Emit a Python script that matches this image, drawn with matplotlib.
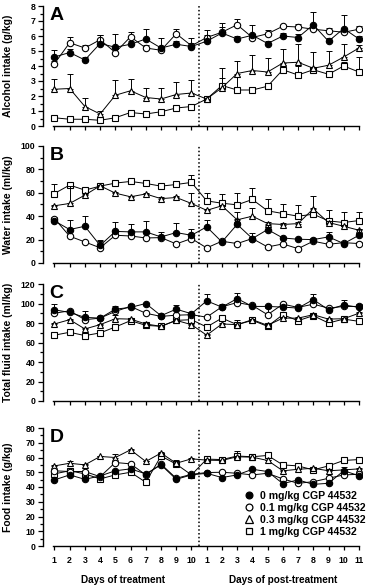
import numpy as np
import matplotlib
matplotlib.use("Agg")
from matplotlib import pyplot as plt
from matplotlib.lines import Line2D
from matplotlib.ticker import MultipleLocator

plt.rcParams["font.family"] = ["Liberation Sans", "DejaVu Sans"]
plt.rcParams["font.weight"] = "bold"

days = np.arange(1, 22)
day_labels = [str(d) for d in range(1, 11)] + [str(d) for d in range(1, 12)]
doses = ["0 mg/kg CGP 44532", "0.1 mg/kg CGP 44532",
         "0.3 mg/kg CGP 44532", "1 mg/kg CGP 44532"]

# panel A - alcohol intake (g/kg)
alc_0 = [4.6, 4.9, 4.4, 5.5, 5.25, 5.45, 5.8, 5.2, 5.45, 5.3, 5.65,
         6.2, 5.8, 6.05, 5.5, 6.0, 5.9, 6.75, 5.65, 6.5, 5.8]
alc_01 = [4.15, 5.55, 5.2, 5.75, 4.9, 5.95, 5.2, 5.05, 6.15, 5.35, 5.9,
          6.25, 6.75, 5.9, 6.15, 6.65, 6.6, 6.45, 6.35, 6.25, 6.45]
alc_03 = [2.45, 2.5, 1.3, 0.8, 2.05, 2.35, 1.9, 1.8, 2.1, 2.2, 1.8,
          2.55, 3.5, 3.7, 3.6, 4.2, 4.25, 3.85, 4.05, 4.6, 5.2]
alc_1 = [0.55, 0.45, 0.45, 0.38, 0.55, 0.9, 0.8, 0.95, 1.2, 1.3, 1.8,
         2.7, 2.4, 2.4, 2.65, 3.75, 3.4, 3.75, 3.45, 4.0, 3.6]
alc_0_err = [0.5, 0.2, 0.2, 0.6, 0.9, 0.2, 0.65, 0.7, 0.2, 0.6, 0.4,
             0.4, 0.2, 0.7, 0.2, 0.2, 0.2, 0.85, 0.2, 0.9, 0.2]
alc_01_err = [0.2, 0.4, 0.2, 0.3, 0.2, 0.35, 0.2, 0.2, 0.3, 0.2, 0.5,
              0.65, 0.4, 0.2, 0.25, 0.1, 0.2, 0.2, 0.2, 0.2, 0.2]
alc_03_err = [0.7, 1.0, 0.6, 0.2, 1.0, 0.8, 0.65, 0.75, 0.85, 0.85, 0.2,
              1.3, 0.85, 1.05, 0.95, 0.9, 1.2, 1.1, 0.95, 0.9, 0.2]
alc_1_err = [0.1, 0.1, 0.1, 0.1, 0.1, 0.1, 0.1, 0.1, 0.1, 0.1, 0.1,
             0.5, 0.9, 0.2, 0.2, 0.3, 0.6, 0.2, 0.2, 0.3, 1.0]

# panel B - water intake (ml/kg)
wat_0 = [36, 28.6, 31.4, 15, 27, 26.6, 26.6, 22.3, 26, 23.7, 30.9,
         18, 33, 20.9, 28.6, 21.4, 20.3, 20, 22.3, 16.6, 23.7]
wat_01 = [38, 22.9, 18, 13, 23.7, 23.1, 21.4, 21.7, 16.3, 20.9, 12.9,
          18.6, 16.6, 20.9, 13.7, 16.3, 12.3, 18.6, 16, 17.4, 16.6]
wat_03 = [48.9, 50.9, 58, 66, 59.7, 56.6, 59, 55, 56, 50.9, 45,
          48.9, 36.9, 40, 33.7, 32.9, 33.7, 46.3, 34.6, 31.4, 28]
wat_1 = [59.4, 66.6, 62.3, 65.7, 68.3, 69.7, 68, 65.7, 67.1, 68.9, 53.1,
         51.1, 49.7, 54.3, 44.6, 42.3, 40, 41.7, 36, 34.6, 36.3]
wat_0_err = [1, 8, 8.6, 5, 8, 7, 9, 4, 8.6, 5, 6,
             1, 11, 5, 4, 1, 1, 1, 4, 1, 5]
wat_01_err = [1, 1, 1, 6, 1, 1, 1, 1, 1, 1, 1,
              1, 1, 1, 1, 1, 1, 1, 1, 1, 1]
wat_03_err = [1, 15, 1, 1, 1, 1, 1, 1, 1, 9, 1,
              1, 1, 7, 1, 1, 1, 11, 1, 1, 1]
wat_1_err = [8, 1, 1, 1, 1, 1, 1, 1, 1, 6, 7,
             7.5, 10, 9.4, 9.7, 8, 9.4, 5, 9, 8.6, 7.7]

# panel C - total fluid intake (ml/kg)
tot_0 = [93.6, 90.8, 85.8, 85, 94.2, 96, 100, 87.5, 94.2, 89.5, 102.7,
         96.3, 105, 97, 97, 96.3, 95.3, 104, 93.6, 98.6, 96]
tot_01 = [90, 92.5, 83.4, 85, 91.9, 97, 90, 86.8, 88, 88.5, 86,
          96.6, 101, 98, 88.5, 99.3, 96, 99.3, 95.3, 97, 97]
tot_03 = [79, 83.4, 73.9, 78.3, 84.4, 84, 79, 76.6, 82.7, 78.3, 67.5,
          79, 78.3, 83.4, 77.6, 85, 85, 88.5, 84, 84.4, 90]
tot_1 = [67.5, 70.5, 67.1, 69.8, 75.9, 82.4, 77.6, 76.6, 82.7, 83.4, 75.9,
         85, 78.3, 82.7, 76.6, 88.5, 82.4, 87.5, 80, 84, 81.7]
tot_0_err = [6, 1, 1, 1, 3, 3, 1, 1, 4, 1, 7,
             3, 6, 1, 1, 1, 1, 6, 1, 5, 3]
tot_01_err = [1, 1, 9, 1, 1, 1, 1, 1, 1, 1, 1,
              1, 1, 1, 7, 1, 1, 1, 1, 1, 1]
tot_03_err = [1, 1, 1, 1, 4, 1, 1, 1, 1, 1, 1,
              1, 5, 1, 1, 1, 1, 1, 1, 1, 1]
tot_1_err = [1, 1, 1, 1, 1, 1, 1, 1, 1, 1, 1,
             1, 1, 1, 1, 1, 1, 1, 1, 1, 1]

# panel D - food intake (g/kg)
food_0 = [44.8, 48.2, 45.2, 47.5, 51, 52.3, 48.9, 55, 45.2, 48.2, 49.3,
          46.4, 48.2, 52, 50.5, 42.3, 44.8, 41.8, 42.5, 51, 47.7]
food_01 = [51, 50.5, 50.5, 47, 56.6, 55.7, 48.2, 55.5, 45.9, 48.6, 49.8,
           50, 49.3, 48.2, 49.3, 45.5, 42.5, 43.6, 45.9, 48.2, 48.6]
food_03 = [54.3, 56.1, 55, 60.7, 60, 65.2, 57.3, 63, 56.1, 59.1, 58.2,
           58, 60.5, 60.2, 58, 51, 52, 52.7, 51, 51.6, 52.3]
food_1 = [48.9, 51, 48.9, 45.5, 48.2, 50, 43.2, 61, 55.5, 48.2, 58.9,
          58.6, 61, 60.5, 61.4, 55, 54.3, 51.6, 54.3, 58, 58.6]
food_0_err = [0.5, 0.5, 0.5, 0.5, 0.5, 0.5, 0.5, 0.5, 0.5, 0.5, 0.5,
              0.5, 0.5, 0.5, 0.5, 0.5, 0.5, 0.5, 0.5, 2.5, 0.5]
food_01_err = [0.5, 0.5, 0.5, 0.5, 0.5, 0.5, 0.5, 0.5, 0.5, 0.5, 0.5,
               0.5, 0.5, 0.5, 0.5, 0.5, 0.5, 0.5, 0.5, 0.5, 0.5]
food_03_err = [0.5, 1.5, 0.5, 0.5, 2.5, 0.5, 0.5, 0.5, 0.5, 0.5, 0.5,
               0.5, 0.5, 2.0, 0.5, 0.5, 0.5, 0.5, 0.5, 0.5, 0.5]
food_1_err = [0.5, 0.5, 0.5, 0.5, 0.5, 0.5, 0.5, 1.5, 2.5, 0.5, 0.5,
              2.0, 3.5, 2.0, 1.5, 0.5, 0.5, 0.5, 0.5, 0.5, 0.5]

panels = [
    ("A", "Alcohol intake (g/kg)", 8, 1, 0.5,
     [alc_0, alc_01, alc_03, alc_1], [alc_0_err, alc_01_err, alc_03_err, alc_1_err]),
    ("B", "Water intake (ml/kg)", 100, 20, 10,
     [wat_0, wat_01, wat_03, wat_1], [wat_0_err, wat_01_err, wat_03_err, wat_1_err]),
    ("C", "Total fluid intake (ml/kg)", 120, 20, 10,
     [tot_0, tot_01, tot_03, tot_1], [tot_0_err, tot_01_err, tot_03_err, tot_1_err]),
    ("D", "Food intake (g/kg)", 80, 10, 5,
     [food_0, food_01, food_03, food_1], [food_0_err, food_01_err, food_03_err, food_1_err]),
]

# marker, facecolor, size, zorder
styles = [("o", "black", 4.6, 6), ("o", "white", 4.6, 5),
          ("^", "white", 4.8, 4), ("s", "white", 4.2, 3)]

# axes boxes in pixels (top, bottom)
boxes = [(6, 126), (146, 263), (284, 401), (428, 546)]
W, H = 367, 588

fig = plt.figure(figsize=(W / 100, H / 100), dpi=100)

for (letter, ylabel, ymax, major, minor, series, errs), (top, bot) in zip(panels, boxes):
    ax = fig.add_axes([43 / W, 1 - bot / H, (362 - 43) / W, (bot - top) / H])
    for vals, err, (m, fc, ms, z) in zip(series, errs, styles):
        vals = np.array(vals)
        err = np.array(err)
        ax.errorbar(days, vals, yerr=[np.zeros_like(err), err], fmt="none",
                    ecolor="black", elinewidth=0.7, capsize=2.2, capthick=0.7,
                    zorder=z - 0.5)
        ax.plot(days, vals, color="black", lw=0.7, marker=m, ms=ms,
                mfc=fc, mec="black", mew=0.8, zorder=z)
    ax.axvline(10.5, color="black", lw=1.1, ls=(0, (1, 1.5)), zorder=1)
    ax.set_xlim(0.25, 21.2)
    ax.set_ylim(0, ymax)
    ax.yaxis.set_major_locator(MultipleLocator(major))
    ax.yaxis.set_minor_locator(MultipleLocator(minor))
    ax.set_xticks(days)
    ax.spines["top"].set_visible(False)
    ax.spines["right"].set_visible(False)
    ax.spines["bottom"].set_bounds(0.9, 21)
    for sp in ("left", "bottom"):
        ax.spines[sp].set_linewidth(1.0)
    ax.tick_params(axis="y", which="major", length=3.5, width=0.9,
                   labelsize=6.3, pad=2)
    ax.tick_params(axis="y", which="minor", length=2, width=0.9)
    ax.tick_params(axis="x", which="major", length=3, width=0.9,
                   labelsize=6.3, pad=4)
    ax.set_ylabel(ylabel, fontsize=7.5, fontweight="bold")
    ax.yaxis.set_label_coords(-0.095, 0.5)
    ax.text(0.02, 0.99, letter, transform=ax.transAxes, fontsize=14,
            fontweight="bold", va="top", ha="left")
    if letter == "D":
        ax.set_xticklabels(day_labels)
        trans = ax.get_xaxis_transform()
        ax.text(5.5, -0.29, "Days of treatment", transform=trans,
                ha="center", va="center", fontsize=7.2, fontweight="bold")
        ax.text(16, -0.29, "Days of post-treatment", transform=trans,
                ha="center", va="center", fontsize=7.2, fontweight="bold")
        handles = [Line2D([], [], ls="none", marker=m, ms=ms + 0.3, mfc=fc,
                          mec="black", mew=0.9)
                   for (m, fc, ms, z) in styles]
        ax.legend(handles, doses, loc="upper left",
                  bbox_to_anchor=(0.63, 0.47), frameon=False,
                  fontsize=7.6, handlelength=1.0, handletextpad=0.5,
                  labelspacing=0.2, borderpad=0, borderaxespad=0)
    else:
        ax.set_xticklabels([])

fig.savefig("out.png", dpi=100)
